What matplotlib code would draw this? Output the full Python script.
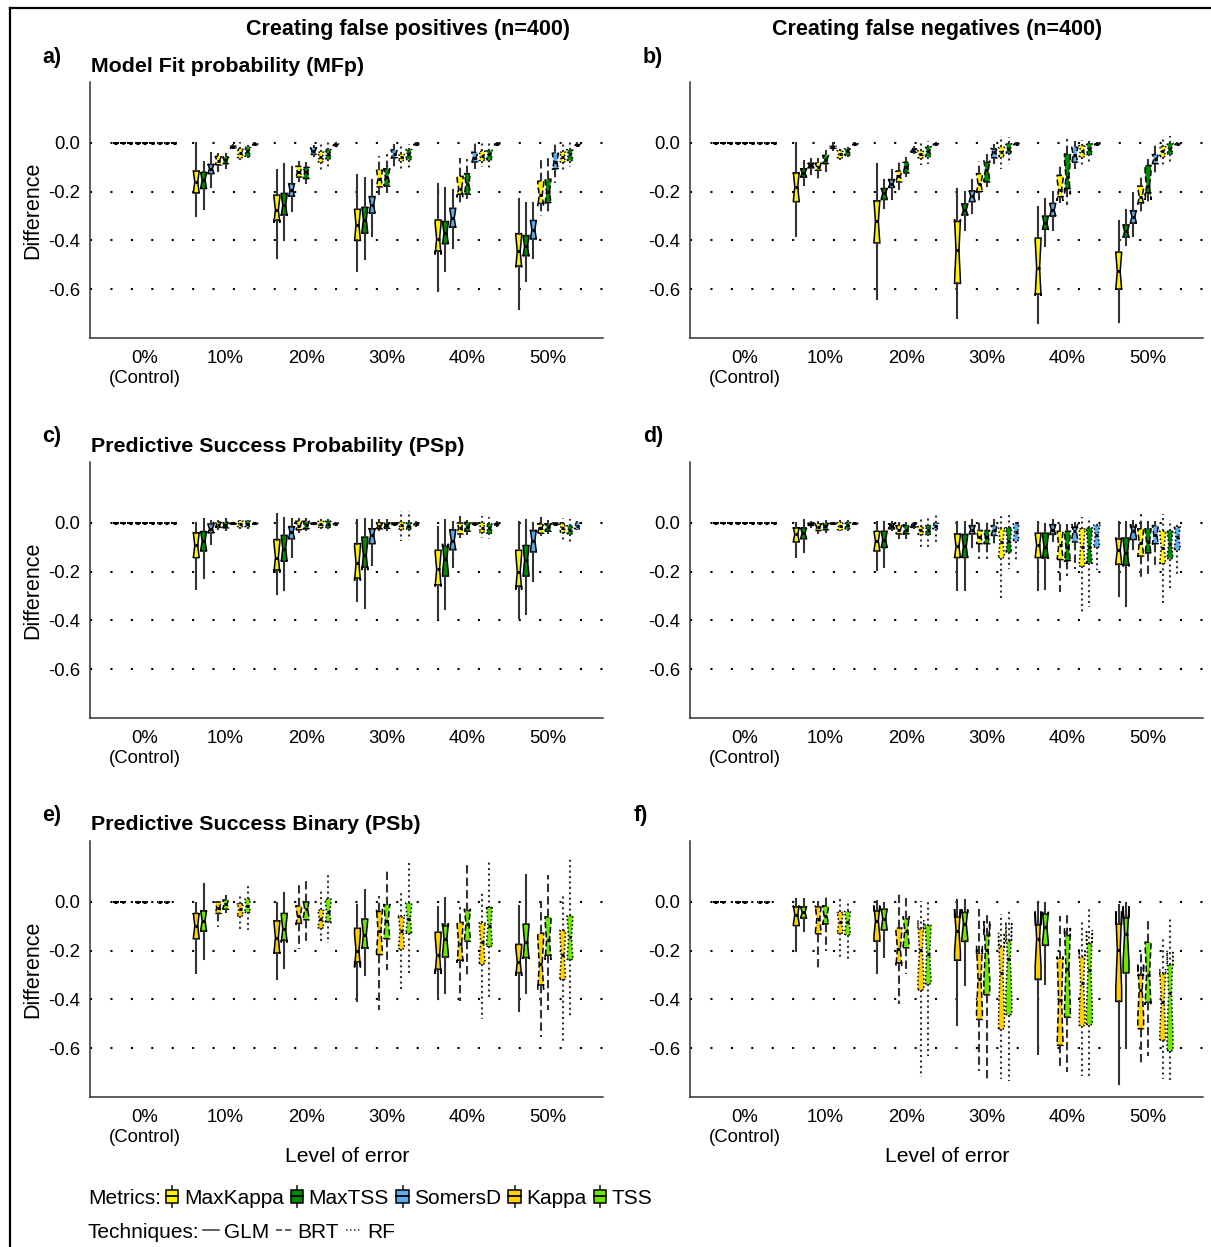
"""Notched boxplots of metric differences under increasing error levels."""
import matplotlib
matplotlib.use("Agg")
import matplotlib.pyplot as plt
from matplotlib.patches import Patch, Rectangle
from matplotlib.lines import Line2D
from matplotlib.legend_handler import HandlerBase
import numpy as np

plt.rcParams["font.family"] = ["Liberation Sans", "DejaVu Sans"]

LEVELS = ["0%\n(Control)", "10%", "20%", "30%", "40%", "50%"]
TECHNIQUES = ["GLM", "BRT", "RF"]
PROB_METRICS = ["MaxKappa", "MaxTSS", "SomersD"]
BIN_METRICS = ["Kappa", "TSS"]

METRIC_COLORS = {
    "MaxKappa": "#FFF200",
    "MaxTSS": "#008A00",
    "SomersD": "#5CACEE",
    "Kappa": "#FFD000",
    "TSS": "#6EE600",
}
TECH_STYLES = {"GLM": "-", "BRT": (0, (4, 2)), "RF": (0, (1, 1.6))}

# each row = one error level (10%..50%); each entry = (whislo, q1, med, q3, whishi)
# box order: GLM metrics, BRT metrics, RF metrics
MFP_FALSE_POS = [
    [(-0.30, -0.205, -0.16, -0.115, 0.0), (-0.27, -0.187, -0.153, -0.12, -0.08),
     (-0.18, -0.126, -0.105, -0.088, -0.04), (-0.12, -0.09, -0.072, -0.055, -0.04),
     (-0.105, -0.085, -0.07, -0.058, -0.04), (-0.025, -0.02, -0.017, -0.013, -0.004),
     (-0.078, -0.06, -0.04, -0.025, 0.003), (-0.072, -0.055, -0.035, -0.018, 0.005),
     (-0.012, -0.008, -0.005, -0.003, 0.005)],
    [(-0.47, -0.318, -0.275, -0.214, -0.11), (-0.40, -0.295, -0.255, -0.207, -0.085),
     (-0.28, -0.218, -0.194, -0.167, -0.10), (-0.161, -0.14, -0.12, -0.096, -0.072),
     (-0.167, -0.146, -0.12, -0.10, -0.078), (-0.058, -0.047, -0.034, -0.02, -0.007),
     (-0.112, -0.078, -0.058, -0.038, 0.003), (-0.102, -0.065, -0.045, -0.027, 0.003),
     (-0.015, -0.01, -0.007, -0.004, 0.004)],
    [(-0.525, -0.40, -0.336, -0.272, -0.13), (-0.478, -0.37, -0.315, -0.264, -0.142),
     (-0.383, -0.288, -0.255, -0.22, -0.153), (-0.214, -0.18, -0.146, -0.112, -0.052),
     (-0.206, -0.177, -0.14, -0.106, -0.045), (-0.106, -0.061, -0.047, -0.028, -0.004),
     (-0.106, -0.072, -0.058, -0.045, -0.004), (-0.112, -0.068, -0.045, -0.027, -0.004),
     (-0.012, -0.008, -0.005, -0.003, 0.004)],
    [(-0.607, -0.444, -0.394, -0.316, -0.17), (-0.525, -0.413, -0.37, -0.322, -0.183),
     (-0.43, -0.345, -0.309, -0.268, -0.194), (-0.248, -0.21, -0.187, -0.137, -0.06),
     (-0.228, -0.21, -0.167, -0.126, -0.065), (-0.106, -0.078, -0.06, -0.038, 0.01),
     (-0.099, -0.072, -0.055, -0.034, 0.003), (-0.102, -0.069, -0.047, -0.031, 0.003),
     (-0.012, -0.008, -0.005, -0.003, 0.004)],
    [(-0.68, -0.505, -0.444, -0.372, -0.23), (-0.566, -0.462, -0.424, -0.38, -0.248),
     (-0.47, -0.394, -0.356, -0.318, -0.248), (-0.30, -0.248, -0.214, -0.157, -0.058),
     (-0.295, -0.245, -0.2, -0.149, -0.051), (-0.166, -0.106, -0.078, -0.042, -0.004),
     (-0.112, -0.078, -0.058, -0.038, -0.004), (-0.099, -0.072, -0.047, -0.028, 0.003),
     (-0.015, -0.01, -0.007, -0.004, 0.004)],
]

MFP_FALSE_NEG = [
    [(-0.383, -0.241, -0.18, -0.123, 0.0), (-0.173, -0.14, -0.123, -0.106, -0.072),
     (-0.126, -0.102, -0.092, -0.083, -0.065), (-0.16, -0.112, -0.099, -0.083, -0.061),
     (-0.119, -0.085, -0.069, -0.051, -0.028), (-0.031, -0.022, -0.018, -0.014, 0.003),
     (-0.083, -0.061, -0.045, -0.031, -0.011), (-0.065, -0.051, -0.034, -0.024, -0.004),
     (-0.01, -0.007, -0.005, -0.003, 0.003)],
    [(-0.638, -0.41, -0.322, -0.237, -0.085), (-0.268, -0.232, -0.207, -0.187, -0.153),
     (-0.228, -0.183, -0.167, -0.15, -0.11), (-0.194, -0.16, -0.137, -0.115, -0.078),
     (-0.14, -0.123, -0.10, -0.079, -0.058), (-0.047, -0.038, -0.03, -0.024, -0.011),
     (-0.09, -0.061, -0.045, -0.031, 0.005), (-0.085, -0.056, -0.034, -0.015, 0.008),
     (-0.01, -0.007, -0.005, -0.003, 0.003)],
    [(-0.72, -0.576, -0.44, -0.322, -0.187), (-0.356, -0.295, -0.275, -0.25, -0.20),
     (-0.288, -0.241, -0.218, -0.196, -0.153), (-0.241, -0.20, -0.167, -0.126, -0.072),
     (-0.179, -0.16, -0.112, -0.079, -0.045), (-0.085, -0.061, -0.038, -0.024, -0.004),
     (-0.106, -0.056, -0.038, -0.015, 0.03), (-0.085, -0.042, -0.024, -0.001, 0.023),
     (-0.01, -0.007, -0.005, -0.003, 0.003)],
    [(-0.738, -0.62, -0.512, -0.39, -0.261), (-0.424, -0.354, -0.327, -0.30, -0.228),
     (-0.356, -0.30, -0.275, -0.248, -0.20), (-0.248, -0.221, -0.194, -0.133, -0.085),
     (-0.254, -0.187, -0.14, -0.045, 0.016), (-0.106, -0.079, -0.051, -0.018, 0.01),
     (-0.09, -0.056, -0.031, -0.011, 0.012), (-0.08, -0.047, -0.024, -0.001, 0.012),
     (-0.01, -0.007, -0.005, -0.003, 0.003)],
    [(-0.736, -0.60, -0.526, -0.448, -0.322), (-0.417, -0.386, -0.363, -0.336, -0.275),
     (-0.381, -0.329, -0.302, -0.278, -0.207), (-0.289, -0.245, -0.22, -0.177, -0.133),
     (-0.254, -0.205, -0.177, -0.092, -0.065), (-0.126, -0.085, -0.065, -0.047, -0.004),
     (-0.099, -0.056, -0.034, -0.015, 0.03), (-0.078, -0.045, -0.024, -0.001, 0.03),
     (-0.01, -0.007, -0.005, -0.003, 0.003)],
]

PSP_FALSE_POS = [
    [(-0.272, -0.143, -0.092, -0.04, 0.0), (-0.227, -0.115, -0.074, -0.035, 0.016),
     (-0.088, -0.04, -0.024, -0.004, 0.01), (-0.03, -0.018, -0.007, 0.003, 0.012),
     (-0.032, -0.02, -0.008, 0.003, 0.02), (-0.01, -0.005, -0.002, 0.0, 0.005),
     (-0.025, -0.015, -0.004, 0.007, 0.012), (-0.025, -0.015, -0.004, 0.007, 0.012),
     (-0.008, -0.005, -0.002, 0.0, 0.004)],
    [(-0.29, -0.193, -0.142, -0.068, 0.036), (-0.274, -0.157, -0.105, -0.051, 0.02),
     (-0.139, -0.065, -0.038, -0.015, 0.016), (-0.04, -0.028, -0.011, 0.007, 0.02),
     (-0.035, -0.024, -0.01, 0.007, 0.02), (-0.01, -0.005, -0.002, 0.0, 0.005),
     (-0.03, -0.018, -0.005, 0.01, 0.02), (-0.035, -0.018, -0.005, 0.01, 0.02),
     (-0.012, -0.006, -0.003, 0.0, 0.005)],
    [(-0.322, -0.227, -0.166, -0.085, 0.012), (-0.349, -0.182, -0.132, -0.058, 0.016),
     (-0.172, -0.085, -0.051, -0.024, 0.012), (-0.035, -0.024, -0.012, 0.0, 0.015),
     (-0.035, -0.022, -0.01, 0.0, 0.015), (-0.012, -0.006, -0.003, 0.0, 0.005),
     (-0.072, -0.025, -0.01, 0.005, 0.05), (-0.07, -0.025, -0.012, 0.003, 0.05),
     (-0.015, -0.008, -0.004, 0.0, 0.006)],
    [(-0.393, -0.254, -0.19, -0.112, -0.018), (-0.353, -0.218, -0.146, -0.096, 0.012),
     (-0.18, -0.109, -0.072, -0.028, 0.003), (-0.06, -0.045, -0.02, 0.0, 0.03),
     (-0.05, -0.034, -0.015, 0.003, 0.012), (-0.012, -0.006, -0.003, 0.0, 0.005),
     (-0.06, -0.038, -0.02, -0.001, 0.03), (-0.065, -0.042, -0.022, -0.004, 0.025),
     (-0.015, -0.008, -0.004, 0.0, 0.006)],
    [(-0.389, -0.26, -0.20, -0.112, 0.003), (-0.375, -0.218, -0.153, -0.092, 0.012),
     (-0.24, -0.119, -0.072, -0.031, 0.0), (-0.055, -0.042, -0.02, -0.004, 0.025),
     (-0.045, -0.034, -0.016, -0.004, 0.012), (-0.012, -0.006, -0.003, 0.0, 0.005),
     (-0.07, -0.038, -0.02, -0.004, 0.02), (-0.08, -0.045, -0.028, -0.011, 0.015),
     (-0.03, -0.024, -0.012, -0.001, 0.006)],
]

PSP_FALSE_NEG = [
    [(-0.14, -0.078, -0.047, -0.02, 0.0), (-0.119, -0.065, -0.042, -0.02, 0.012),
     (-0.015, -0.01, -0.006, -0.001, 0.005), (-0.045, -0.031, -0.018, -0.004, 0.01),
     (-0.04, -0.028, -0.014, -0.001, 0.012), (-0.008, -0.005, -0.002, 0.0, 0.004),
     (-0.035, -0.028, -0.012, 0.003, 0.02), (-0.035, -0.024, -0.01, 0.003, 0.02),
     (-0.008, -0.005, -0.002, 0.0, 0.004)],
    [(-0.193, -0.115, -0.074, -0.034, 0.003), (-0.18, -0.101, -0.068, -0.034, 0.003),
     (-0.03, -0.024, -0.012, -0.004, 0.004), (-0.065, -0.045, -0.028, -0.011, 0.005),
     (-0.065, -0.045, -0.028, -0.008, 0.005), (-0.024, -0.018, -0.01, -0.001, 0.004),
     (-0.10, -0.047, -0.03, -0.015, 0.03), (-0.10, -0.047, -0.028, -0.011, 0.03),
     (-0.09, -0.024, -0.012, -0.001, 0.036)],
    [(-0.274, -0.142, -0.096, -0.045, 0.003), (-0.274, -0.142, -0.096, -0.047, 0.003),
     (-0.099, -0.045, -0.028, -0.011, 0.012), (-0.146, -0.085, -0.058, -0.031, 0.016),
     (-0.146, -0.085, -0.058, -0.031, 0.016), (-0.10, -0.051, -0.03, -0.011, 0.016),
     (-0.312, -0.142, -0.078, -0.024, 0.03), (-0.187, -0.119, -0.072, -0.02, 0.036),
     (-0.16, -0.072, -0.038, -0.004, 0.012)],
    [(-0.277, -0.142, -0.092, -0.042, 0.003), (-0.272, -0.142, -0.098, -0.042, -0.004),
     (-0.072, -0.047, -0.027, -0.007, 0.012), (-0.285, -0.15, -0.092, -0.034, -0.004),
     (-0.218, -0.155, -0.099, -0.034, -0.004), (-0.187, -0.078, -0.034, -0.018, 0.003),
     (-0.366, -0.177, -0.099, -0.024, 0.026), (-0.345, -0.163, -0.099, -0.02, 0.023),
     (-0.193, -0.099, -0.051, -0.011, 0.01)],
    [(-0.30, -0.17, -0.112, -0.065, 0.003), (-0.34, -0.173, -0.123, -0.062, 0.003),
     (-0.105, -0.068, -0.031, -0.015, 0.01), (-0.23, -0.136, -0.082, -0.024, 0.036),
     (-0.22, -0.123, -0.078, -0.024, 0.01), (-0.19, -0.085, -0.051, -0.011, 0.01),
     (-0.335, -0.166, -0.101, -0.034, 0.036), (-0.274, -0.146, -0.085, -0.034, 0.012),
     (-0.213, -0.109, -0.058, -0.018, 0.003)],
]

# binary metrics: GLM Kappa, GLM TSS, BRT Kappa, BRT TSS, RF Kappa, RF TSS
PSB_FALSE_POS = [
    [(-0.29, -0.151, -0.097, -0.047, -0.003), (-0.232, -0.12, -0.077, -0.036, 0.074),
     (-0.104, -0.047, -0.023, 0.0, 0.004), (-0.047, -0.03, -0.01, 0.008, 0.03),
     (-0.12, -0.057, -0.03, -0.007, 0.038), (-0.115, -0.043, -0.016, 0.011, 0.078)],
    [(-0.314, -0.209, -0.147, -0.077, -0.003), (-0.269, -0.158, -0.111, -0.047, 0.035),
     (-0.192, -0.088, -0.057, -0.016, 0.085), (-0.165, -0.073, -0.03, 0.0, 0.10),
     (-0.174, -0.107, -0.07, -0.034, 0.051), (-0.169, -0.08, -0.043, 0.011, 0.12)],
    [(-0.408, -0.246, -0.20, -0.108, -0.014), (-0.30, -0.188, -0.134, -0.07, 0.05),
     (-0.445, -0.216, -0.118, -0.039, 0.024), (-0.28, -0.151, -0.077, -0.012, 0.13),
     (-0.36, -0.192, -0.118, -0.061, 0.047), (-0.30, -0.128, -0.07, -0.004, 0.169)],
    [(-0.40, -0.277, -0.219, -0.124, -0.02), (-0.374, -0.226, -0.151, -0.097, 0.018),
     (-0.408, -0.239, -0.172, -0.084, -0.02), (-0.307, -0.161, -0.09, -0.036, 0.15),
     (-0.48, -0.253, -0.165, -0.088, 0.045), (-0.388, -0.182, -0.097, -0.023, 0.169)],
    [(-0.449, -0.29, -0.246, -0.174, -0.016), (-0.372, -0.228, -0.165, -0.091, 0.109),
     (-0.553, -0.341, -0.253, -0.128, 0.004), (-0.445, -0.219, -0.158, -0.061, 0.112),
     (-0.57, -0.318, -0.219, -0.118, 0.031), (-0.467, -0.236, -0.145, -0.057, 0.18)],
]

PSB_FALSE_NEG = [
    [(-0.20, -0.097, -0.053, -0.02, 0.011), (-0.12, -0.066, -0.043, -0.02, 0.011),
     (-0.273, -0.131, -0.07, -0.02, 0.004), (-0.20, -0.09, -0.057, -0.016, 0.03),
     (-0.239, -0.128, -0.084, -0.043, 0.024), (-0.241, -0.134, -0.084, -0.039, 0.007)],
    [(-0.29, -0.161, -0.077, -0.036, 0.004), (-0.226, -0.115, -0.07, -0.03, -0.003),
     (-0.418, -0.25, -0.192, -0.107, 0.034), (-0.294, -0.188, -0.118, -0.07, 0.024),
     (-0.719, -0.361, -0.199, -0.111, 0.004), (-0.631, -0.336, -0.212, -0.097, 0.004)],
    [(-0.503, -0.239, -0.118, -0.061, 0.007), (-0.34, -0.162, -0.09, -0.043, 0.007),
     (-0.692, -0.482, -0.314, -0.212, -0.03), (-0.732, -0.381, -0.199, -0.138, -0.036),
     (-0.728, -0.52, -0.293, -0.185, -0.05), (-0.736, -0.462, -0.232, -0.161, -0.03)],
    [(-0.624, -0.318, -0.151, -0.093, 0.001), (-0.336, -0.178, -0.104, -0.05, -0.003),
     (-0.688, -0.588, -0.401, -0.232, -0.057), (-0.696, -0.473, -0.273, -0.138, -0.047),
     (-0.715, -0.507, -0.334, -0.226, -0.077), (-0.715, -0.503, -0.28, -0.172, -0.023)],
    [(-0.746, -0.408, -0.196, -0.091, -0.012), (-0.597, -0.291, -0.131, -0.064, -0.003),
     (-0.666, -0.52, -0.362, -0.30, -0.196), (-0.631, -0.412, -0.30, -0.165, -0.061),
     (-0.728, -0.566, -0.409, -0.296, -0.145), (-0.73, -0.61, -0.374, -0.259, -0.07)],
]

N_RUNS = 10          # replicate runs behind each box (sets notch depth)
GROUP_STEP = 11      # x units between error levels
YTICKS = [0.0, -0.2, -0.4, -0.6]

W, H = 1211, 1247


def fx(px):
    return px / W


def fy(py):
    return 1 - py / H


class BoxGlyph(HandlerBase):
    """Legend key drawn as a tiny boxplot: whisker, box and median bar."""

    def create_artists(self, legend, orig, xdescent, ydescent, width, height,
                       fontsize, trans):
        cx = -xdescent + width / 2
        bw = width * 0.85
        y0 = -ydescent
        whisker = Line2D([cx, cx], [y0 - 0.3 * height, y0 + 1.3 * height],
                         color="#333333", linewidth=1.3, transform=trans)
        box = Rectangle((cx - bw / 2, y0), bw, height,
                        facecolor=orig.get_facecolor(), edgecolor="black",
                        linewidth=1.1, transform=trans)
        median = Line2D([cx - bw / 2, cx + bw / 2], [y0 + height / 2] * 2,
                        color="black", linewidth=1.3, transform=trans)
        return [whisker, box, median]


def draw_panel(ax, rows, metrics, show_ylabel):
    nm = len(metrics)
    for g in range(len(LEVELS)):
        for t, tech in enumerate(TECHNIQUES):
            for m, metric in enumerate(metrics):
                if g == 0:
                    lo = q1 = med = q3 = hi = 0.0
                else:
                    lo, q1, med, q3, hi = rows[g - 1][t * nm + m]
                half = 1.57 * (q3 - q1) / np.sqrt(N_RUNS)
                st = dict(whislo=lo, q1=q1, med=med, q3=q3, whishi=hi,
                          cilo=med - half, cihi=med + half, fliers=[])
                ls = TECH_STYLES[tech]
                ax.bxp([st], positions=[g * GROUP_STEP + t * 3 + m], widths=0.8,
                       shownotches=True, patch_artist=True, showcaps=False,
                       showfliers=False, manage_ticks=False,
                       boxprops=dict(facecolor=METRIC_COLORS[metric],
                                     edgecolor="black", linewidth=1.1,
                                     linestyle=ls),
                       whiskerprops=dict(color="#333333", linewidth=1.5,
                                         linestyle=ls),
                       medianprops=dict(color="black", linewidth=2.2,
                                        solid_capstyle="butt"))

    ax.set_xlim(-3.5, 66.5)
    ax.set_ylim(-0.8, 0.25)
    ax.set_xticks([g * GROUP_STEP + 4 for g in range(len(LEVELS))])
    ax.set_xticklabels(LEVELS, fontsize=13.3, linespacing=1.25)
    ax.set_yticks(YTICKS)
    ax.set_yticklabels([f"{v:.1f}" for v in YTICKS], fontsize=13.3)
    ax.tick_params(axis="y", length=0, pad=7)
    ax.tick_params(axis="x", length=0, pad=8.5)
    ax.yaxis.grid(True, color="black", linewidth=1.5,
                  linestyle=(0, (1, 8.8)))
    ax.set_axisbelow(True)
    for side in ("top", "right"):
        ax.spines[side].set_visible(False)
    for side in ("left", "bottom"):
        ax.spines[side].set_color("#333333")
        ax.spines[side].set_linewidth(1.1)
    if show_ylabel:
        ax.set_ylabel("Difference", fontsize=15.5)
        ax.yaxis.set_label_coords(-0.091, 0.5)


fig = plt.figure(figsize=(W / 100, H / 100), dpi=100)

col_left = [90, 690]
row_top = [82, 462, 841]
ax_w, ax_h = 513, 256
panels = [
    (MFP_FALSE_POS, PROB_METRICS), (MFP_FALSE_NEG, PROB_METRICS),
    (PSP_FALSE_POS, PROB_METRICS), (PSP_FALSE_NEG, PROB_METRICS),
    (PSB_FALSE_POS, BIN_METRICS), (PSB_FALSE_NEG, BIN_METRICS),
]
for i, (rows, metrics) in enumerate(panels):
    r, c = divmod(i, 2)
    x0, y0 = col_left[c], row_top[r]
    ax = fig.add_axes([fx(x0), fy(y0 + ax_h), fx(ax_w), ax_h / H])
    draw_panel(ax, rows, metrics, show_ylabel=(c == 0))

# column headings, panel letters and row titles
fig.text(fx(408), fy(30), "Creating false positives (n=400)", ha="center",
         va="center", fontsize=15.5, fontweight="bold")
fig.text(fx(937), fy(29), "Creating false negatives (n=400)", ha="center",
         va="center", fontsize=15.5, fontweight="bold")
letters = [("a)", 42, 57), ("b)", 643, 57), ("c)", 42, 437),
           ("d)", 643, 437), ("e)", 42, 815), ("f)", 634, 815)]
for txt, x, y in letters:
    fig.text(fx(x), fy(y), txt, ha="left", va="center", fontsize=15.5,
             fontweight="bold")
row_titles = [("Model Fit probability (MFp)", 66),
              ("Predictive Success Probability (PSp)", 446),
              ("Predictive Success Binary (PSb)", 824)]
for txt, y in row_titles:
    fig.text(fx(91), fy(y), txt, ha="left", va="center", fontsize=15.4,
             fontweight="bold")

for x in (347, 947):
    fig.text(fx(x), fy(1156), "Level of error", ha="center", va="center",
             fontsize=15.2)

# legends
fig.text(fx(88), fy(1198), "Metrics:", ha="left", va="center", fontsize=15)
metric_names = PROB_METRICS + BIN_METRICS
metric_handles = [Patch(facecolor=METRIC_COLORS[n]) for n in metric_names]
fig.legend(metric_handles, metric_names, loc="center left",
           bbox_to_anchor=(fx(165), fy(1198)), ncol=5, frameon=False,
           fontsize=15, handlelength=0.7, handleheight=0.6,
           handletextpad=0.2, columnspacing=0.3, borderpad=0,
           borderaxespad=0, handler_map={Patch: BoxGlyph()})

fig.text(fx(88), fy(1232), "Techniques:", ha="left", va="center",
         fontsize=15)
tech_handles = [Line2D([], [], color="#333333", linewidth=1.1,
                       linestyle=TECH_STYLES[t]) for t in TECHNIQUES]
fig.legend(tech_handles, TECHNIQUES, loc="center left",
           bbox_to_anchor=(fx(203), fy(1232)), ncol=3, frameon=False,
           fontsize=15, handlelength=0.75, handletextpad=0.25,
           columnspacing=0.35, borderpad=0, borderaxespad=0)

# outer frame
fig.add_artist(Line2D([fx(10), fx(10)], [fy(8), fy(1260)], color="black",
                      linewidth=1.6, transform=fig.transFigure))
fig.add_artist(Line2D([fx(10), fx(1220)], [fy(8), fy(8)], color="black",
                      linewidth=1.6, transform=fig.transFigure))

fig.savefig("out.png", dpi=100)
